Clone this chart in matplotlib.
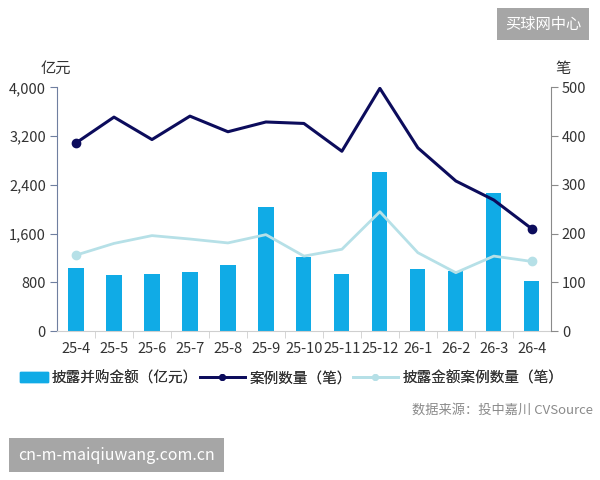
import matplotlib.pyplot as plt
from matplotlib.lines import Line2D
from matplotlib.patches import Patch

plt.rcParams["font.family"] = ["Noto Sans CJK SC", "DejaVu Sans"]

months = ["25-4", "25-5", "25-6", "25-7", "25-8", "25-9", "25-10",
          "25-11", "25-12", "26-1", "26-2", "26-3", "26-4"]
amount = [1040, 925, 940, 965, 1090, 2040, 1210, 940, 2615, 1020, 985, 2260, 820]
deals = [386, 439, 393, 441, 409, 429, 426, 369, 498, 376, 308, 269, 210]
deals_disclosed = [156, 180, 196, 189, 181, 198, 154, 168, 245, 161, 120, 154, 143]

bar_color = "#10abe6"
dark_color = "#0c0c5c"
light_color = "#b6e0e7"

fig = plt.figure(figsize=(6, 4.8), dpi=100)
ax = fig.add_axes([0.095, 0.31, 0.823, 0.508])
x = list(range(len(months)))

ax.bar(x, amount, width=0.4, color=bar_color, zorder=2)
ax.set_xlim(-0.5, len(months) - 0.5)
ax.set_ylim(0, 4000)
ax.set_yticks([0, 800, 1600, 2400, 3200, 4000])
ax.set_yticklabels(["0", "800", "1,600", "2,400", "3,200", "4,000"])
ax.set_xticks(x)
ax.set_xticklabels(months)
ax.set_xticks([i + 0.5 for i in x[:-1]], minor=True)
ax.tick_params(axis="x", which="major", length=0, labelsize=10.5, colors="#333333", pad=8)
ax.tick_params(axis="x", which="minor", length=5, color="#cfcfcf")
ax.tick_params(axis="y", length=5, labelsize=10.5, colors="#333333", pad=3)
ax.tick_params(axis="y", color="#6f7fa0")
for s in ["top", "right"]:
    ax.spines[s].set_visible(False)
ax.spines["left"].set_color("#6f7fa0")
ax.spines["bottom"].set_color("#cfcfcf")

ax2 = ax.twinx()
ax2.set_ylim(0, 500)
ax2.set_yticks([0, 100, 200, 300, 400, 500])
ax2.plot(x, deals_disclosed, color=light_color, lw=2, zorder=3)
ax2.plot([x[0], x[-1]], [deals_disclosed[0], deals_disclosed[-1]], "o",
         color=light_color, ms=6)
ax2.plot(x, deals, color=dark_color, lw=2.2, zorder=4)
ax2.plot([x[0], x[-1]], [deals[0], deals[-1]], "o", color=dark_color, ms=6)
ax2.tick_params(axis="y", length=5, labelsize=10.5, colors="#333333", color="#8a8a8a", pad=3)
for s in ["top", "left", "bottom"]:
    ax2.spines[s].set_visible(False)
ax2.spines["right"].set_color("#8a8a8a")

fig.text(0.068, 0.858, "亿元", fontsize=11, color="#333333", ha="left", va="center")
fig.text(0.925, 0.858, "笔", fontsize=11, color="#333333", ha="left", va="center")

# legend: three separate entries placed by hand
items = [
    (Patch(color=bar_color), "披露并购金额（亿元）", 0.033, 1.9),
    (Line2D([], [], color=dark_color, lw=2, marker="o", ms=4, markevery=[0, -1]),
     "案例数量（笔）", 0.333, 3.1),
    (Line2D([], [], color=light_color, lw=2, marker="o", ms=4, markevery=[0, -1]),
     "披露金额案例数量（笔）", 0.588, 3.1),
]
for h, lab, x0, hl in items:
    leg = fig.legend([h], [lab], loc="center left", bbox_to_anchor=(x0, 0.212),
                     frameon=False, fontsize=10.5, handlelength=hl,
                     handletextpad=0.3, borderpad=0, borderaxespad=0,
                     labelcolor="#333333")
    fig.add_artist(leg)

fig.text(0.988, 0.145, "数据来源：投中嘉川 CVSource", fontsize=9.5, color="#8a8a8a",
         ha="right", va="center")

fig.text(0.905, 0.95, "买球网中心", fontsize=11, color="white", ha="center", va="center",
         bbox=dict(boxstyle="square,pad=0.5", fc="#a6a6a6", ec="none"))
fig.text(0.03, 0.052, "cn-m-maiqiuwang.com.cn", fontsize=11.5, color="white",
         ha="left", va="center",
         bbox=dict(boxstyle="square,pad=0.55", fc="#a6a6a6", ec="none"))

fig.savefig("out.png", dpi=100)
